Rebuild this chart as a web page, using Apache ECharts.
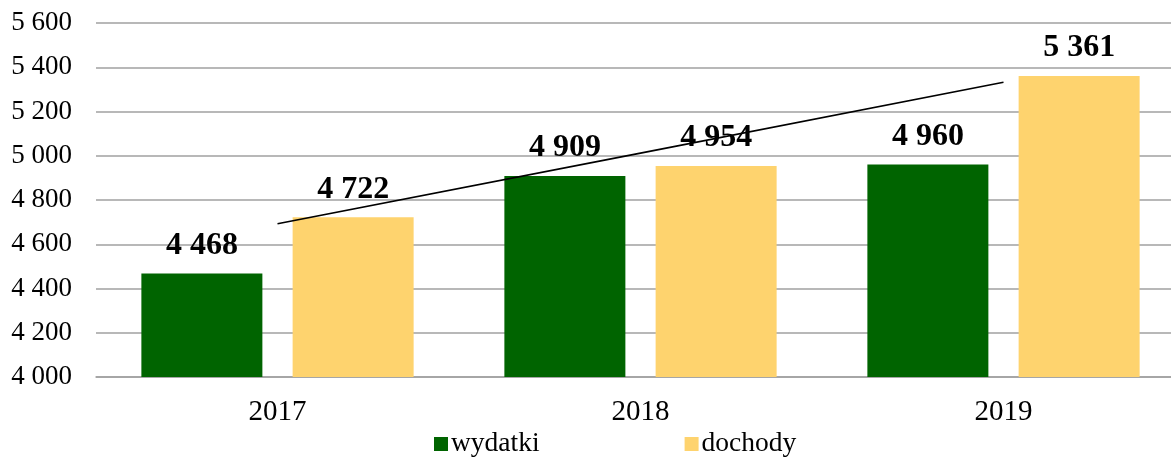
<!DOCTYPE html>
<html>
<head>
<meta charset="utf-8">
<script src="https://cdn.jsdelivr.net/npm/echarts@6/dist/echarts.min.js"></script>
<style>
  html, body { margin: 0; padding: 0; background: #fff; }
  #chart { width: 1171px; height: 457px; }
</style>
</head>
<body>
<div id="chart"></div>
<script>
const years = ["2017", "2018", "2019"];
const wydatki = [4468, 4909, 4960];
const dochody = [4722, 4954, 5361];
// linia trendu dla dochodów
const trend = [4693, 5012, 5332];

const font = "'Liberation Serif', 'Times New Roman', serif";
const fmt = (v) => String(v).replace(/\B(?=(\d{3})+(?!\d))/g, " ");

const myChart = echarts.init(document.getElementById("chart"));

const barLabel = {
  show: true,
  position: "top",
  distance: 12,
  fontFamily: font,
  fontSize: 32,
  fontWeight: "bold",
  color: "#000",
  formatter: (p) => fmt(p.value),
};

const option = {
  animation: false,
  textStyle: { fontFamily: font },
  grid: {
    left: 96,
    top: 23,
    width: 1089,
    height: 354,
    containLabel: false,
    outerBoundsMode: "none",
  },
  legend: {
    left: 429,
    top: 425,
    itemWidth: 14,
    itemHeight: 14,
    itemGap: 145,
    icon: "rect",
    data: ["wydatki", "dochody"],
    textStyle: { fontFamily: font, fontSize: 27.5, color: "#000", padding: [0, 0, 0, -2] },
  },
  xAxis: {
    type: "category",
    data: years,
    axisTick: { show: false },
    axisLine: { lineStyle: { color: "#a0a0a0", width: 1.5 } },
    axisLabel: { color: "#000", fontFamily: font, fontSize: 29, margin: 21 },
  },
  yAxis: {
    type: "value",
    min: 4000,
    max: 5600,
    interval: 200,
    axisLine: { show: false },
    axisTick: { show: false },
    axisLabel: {
      color: "#000",
      fontFamily: font,
      fontSize: 27,
      margin: 24,
      formatter: (v) => fmt(v),
    },
    splitLine: { lineStyle: { color: "#a0a0a0", width: 1.5 } },
  },
  series: [
    {
      name: "wydatki",
      type: "bar",
      data: wydatki,
      barWidth: 121,
      barGap: "25%",
      itemStyle: { color: "#006400" },
      label: barLabel,
    },
    {
      name: "dochody",
      type: "bar",
      data: dochody,
      barWidth: 121,
      itemStyle: { color: "#FED36E" },
      label: barLabel,
    },
    {
      name: "trend",
      type: "line",
      data: trend,
      symbol: "none",
      silent: true,
      z: 5,
      lineStyle: { color: "#000", width: 1.6 },
    },
  ],
};

option && myChart.setOption(option);
</script>
</body>
</html>
